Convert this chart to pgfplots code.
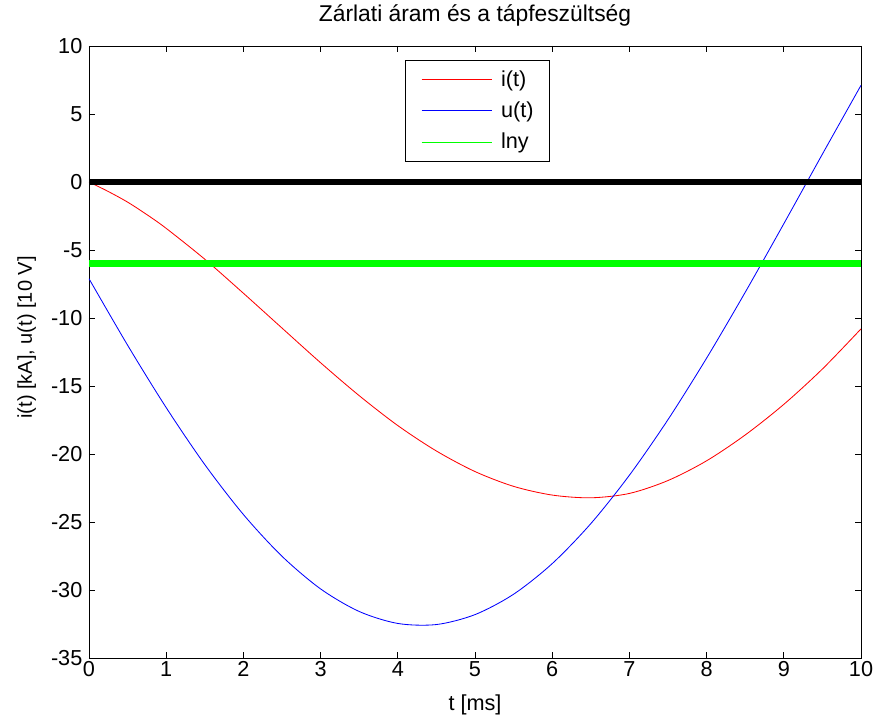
\documentclass[border=0pt]{standalone}
\usepackage{fontspec}
\setmainfont{Liberation Sans}
\usepackage{pgfplots}
\pgfplotsset{compat=1.18}
\newcommand\fnt{\fontsize{13}{15.6}\selectfont}
\begin{document}
\begin{tikzpicture}
\begin{axis}[
  scale only axis, width=463.2pt, height=367.2pt,
  xmin=0, xmax=10, ymin=-35, ymax=10,
  xtick={0,1,...,10}, ytick={-35,-30,...,10},
  tick align=inside, tick pos=both, major tick length=3.6pt,
  axis line style={line width=0.5pt},
  every tick/.style={black, line width=0.5pt},
  /pgf/number format/assume math mode=true,
  tick label style={font=\fnt},
  xticklabel style={anchor=base, inner sep=0pt, yshift=-10.8pt},
  yticklabel style={anchor=east, inner sep=0pt, xshift=-3.8pt},
  title style={font=\fontsize{13.7}{16}\selectfont, at={([yshift=8.6pt]axis description cs:0.5,1)}, anchor=base},
  title={Zárlati áram és a tápfeszültség},
  xlabel={t [ms]},
  xlabel style={font=\fnt, at={([yshift=-31.2pt]axis description cs:0.5,0)}, anchor=base},
  ylabel={i(t) [kA], u(t) [10 V]},
  ylabel style={font=\fontsize{12}{14}\selectfont, at={([xshift=-34.2pt]axis description cs:0,0.5237)}, anchor=base},
  legend style={at={(0.409,0.977)}, anchor=north west, draw=black, line width=0.5pt, fill=white,
    font=\fnt, row sep=7.8pt, column sep=5.4pt, inner xsep=9.6pt, inner ysep=6pt,
    nodes={inner sep=0pt}},
  legend cell align=left,
  legend image code/.code={\draw[line width=0.5pt] (0pt,0pt) -- (42pt,0pt);},
]
\addplot[red, line width=0.5pt, smooth] coordinates {
(0,0) (0.25,-0.7) (0.5,-1.48) (0.75,-2.4) (1,-3.41) (1.5,-5.68) (2,-8.18) (2.5,-10.74) (3,-13.29)
(3.5,-15.71) (4,-17.91) (4.5,-19.78) (5,-21.29) (5.5,-22.38) (6,-23.02)
(6.5,-23.22) (7,-22.9) (7.5,-21.95) (8,-20.5) (8.5,-18.6) (9,-16.35)
(9.5,-13.75) (10,-10.8)};
\addlegendentry{i(t)}
\addplot[blue, line width=0.5pt, smooth] coordinates {
(0,-7.11) (0.5,-12.00) (1,-16.59) (1.5,-20.78) (2,-24.45) (2.5,-27.52) (3,-29.92)
(3.5,-31.58) (4,-32.46) (4.5,-32.54) (5,-31.81) (5.5,-30.31) (6,-28.06)
(6.5,-25.12) (7,-21.56) (7.5,-17.47) (8,-12.95) (8.5,-8.11) (9,-3.07) (9.5,2.05) (10,7.11)};
\addlegendentry{u(t)}
\addplot[color={rgb,1:red,0;green,1;blue,0}, line width=4pt] coordinates {(0,-6) (10,-6)};
\addlegendentry{lny}
\addplot[black, line width=4pt, forget plot] coordinates {(0,0) (10,0)};
\end{axis}
\pgfresetboundingbox
\path ([xshift=-53.4pt,yshift=-35.4pt]current axis.south west) rectangle ([xshift=9.6pt,yshift=27.6pt]current axis.north east);
\end{tikzpicture}
\end{document}
